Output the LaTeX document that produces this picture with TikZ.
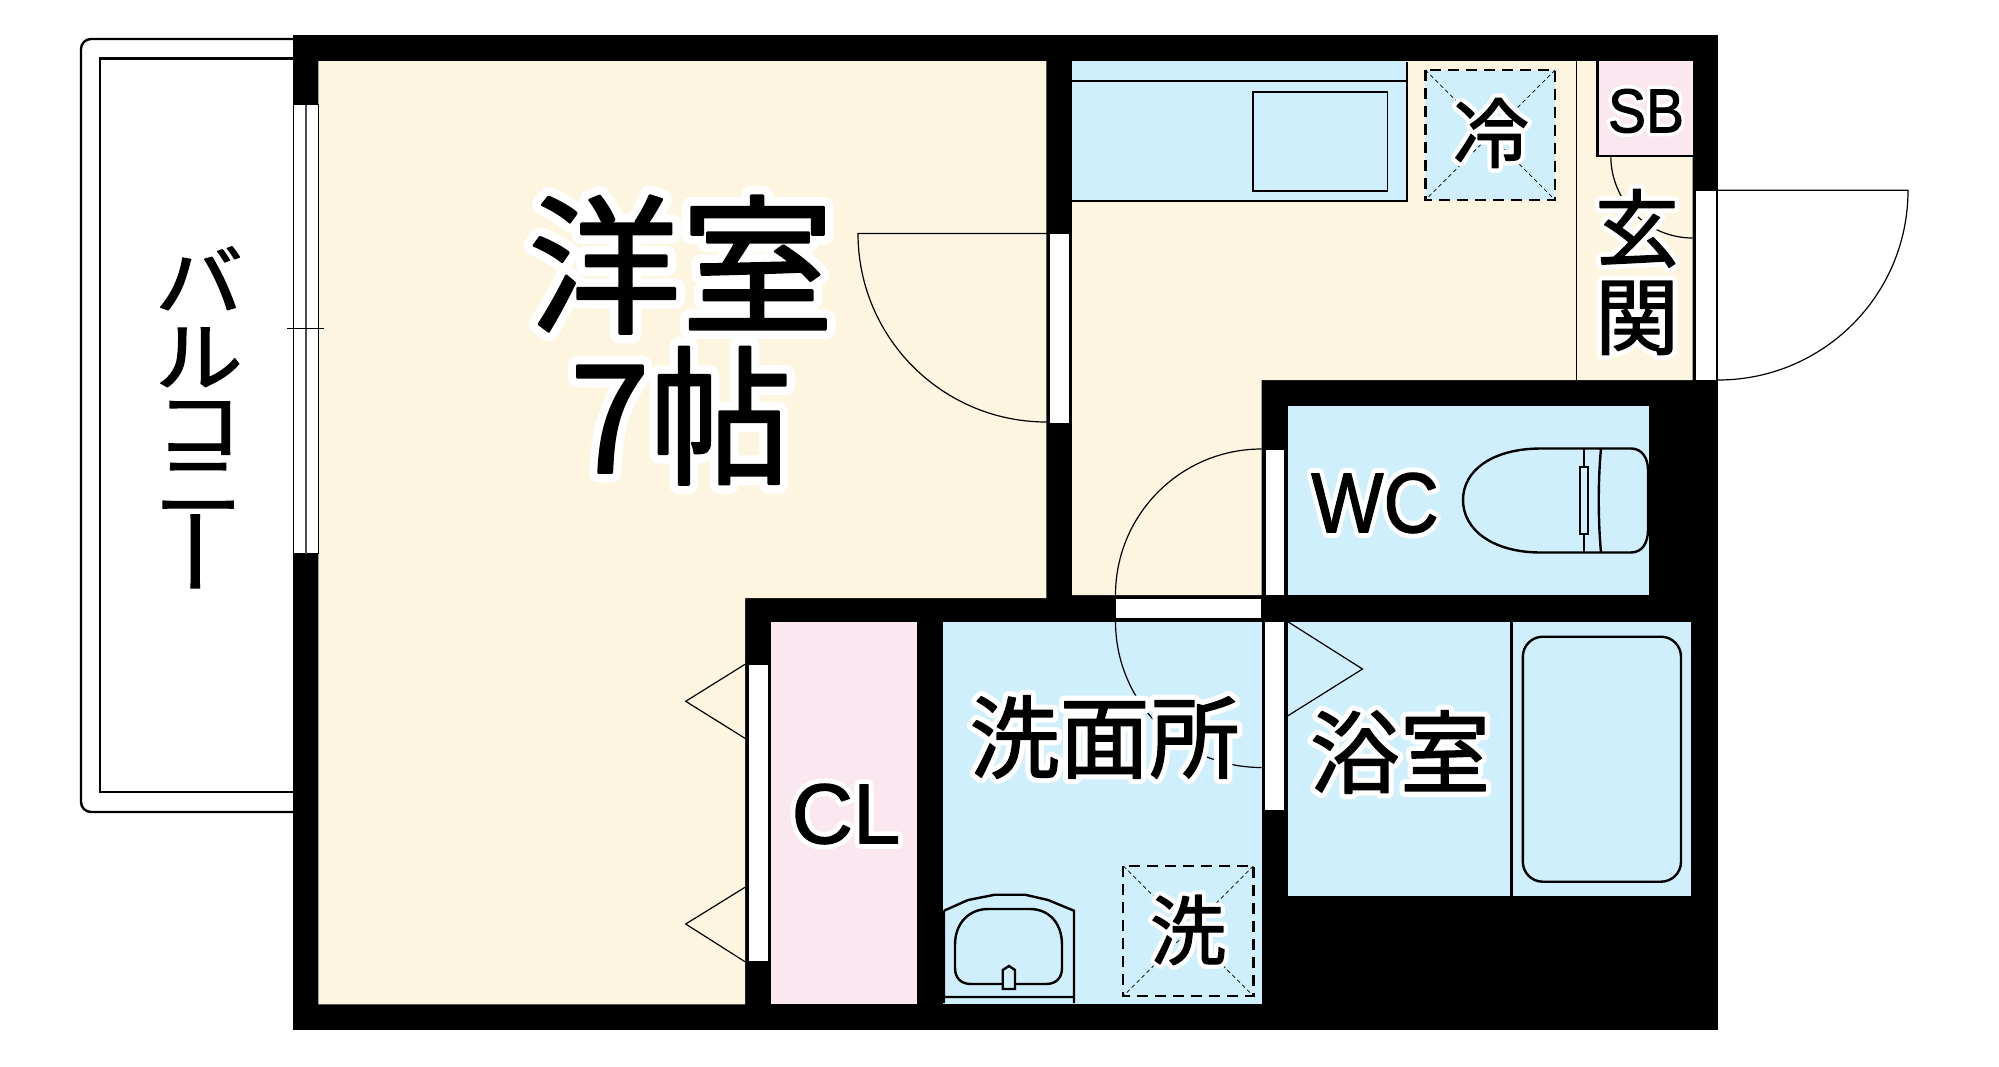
\documentclass[tikz,border=0pt]{standalone}
\usepackage{fontspec}
\setmainfont{Liberation Sans}
\newfontfamily\jp{Noto Sans CJK JP}
\definecolor{cream}{HTML}{FEF5E1}
\definecolor{aqua}{HTML}{D0EFFC}
\definecolor{blush}{HTML}{FBE7F0}
\newcommand\halo[1]{\rlap{\color{white}\addfontfeature{FakeBold=13}#1}{\addfontfeature{FakeBold=1.6}#1}}
\tikzset{
  room/.style={fill=#1,draw=none},
  thin line/.style={draw=black,line width=1.2pt},
  mid line/.style={draw=black,line width=2.4pt},
  pan/.style={draw=black,line width=2.2pt,dash pattern=on 11pt off 7pt},
  cross/.style={draw=black,line width=.7pt,dash pattern=on 4pt off 3pt},
  opening/.style={fill=white,draw=black,line width=.8pt},
  jplabel/.style={font=\jp\fontsize{#1}{#1}\selectfont,inner sep=0pt,align=center},
  jpheavy/.style={font=\jp\fontsize{#1}{#1}\selectfont\addfontfeature{FakeBold=1.6},inner sep=0pt,align=center},
  enlabel/.style={font=\fontsize{#1}{#1}\selectfont,inner sep=0pt},
}
\begin{document}
\begin{tikzpicture}[x=1pt,y=-1pt]
\useasboundingbox (0,0) rectangle (1999,1066);
% balcony
\draw[mid line,rounded corners=10pt] (293,39) -- (81,39) -- (81,812) -- (293,812);
\draw[mid line] (293,58.5) -- (100,58.5) -- (100,792) -- (293,792);
% building mass
\fill[black] (293,35.3) rectangle (1718,1030);
% rooms
\path[room=cream] (318.3,61) -- (1046.3,61) -- (1046.3,598) -- (745,598) -- (745,1004.3) -- (318.3,1004.3) -- cycle;
\path[room=cream] (1072,61) -- (1692.7,61) -- (1692.7,380) -- (1261.5,380) -- (1261.5,595) -- (1072,595) -- cycle;
\path[room=blush] (770.7,621.5) rectangle (917.3,1004.3);
\path[room=aqua] (942.8,621.5) rectangle (1261.5,1004.3);
\path[room=aqua] (1287.5,406) rectangle (1649,595);
\path[room=aqua] (1287.5,621.5) rectangle (1691,896);
\path[room=blush] (1597.6,61) rectangle (1692.7,156);
% kitchen counter
\path[room=aqua] (1072,61) rectangle (1407,201);
\draw[mid line] (1072,81) -- (1406,81);
\draw[mid line] (1072,201) -- (1407,201) -- (1407,62);
\draw[mid line,line width=1.8pt,fill=aqua] (1252.6,92.3) rectangle (1387.5,191.3);
% fridge pan
\path[room=aqua] (1425.4,70) rectangle (1555,200);
\draw[cross] (1425.4,70) -- (1555,200) (1555,70) -- (1425.4,200);
\draw[pan] (1425.4,70) rectangle (1555,200);
% entrance
\draw[thin line] (1576.4,61) -- (1576.4,380);
\draw[mid line] (1692.7,156) -- (1597.6,156) -- (1597.6,61);
\draw[thin line] (1610.8,156) .. controls (1610.8,201.3) and (1647.4,238) .. (1692.7,238);
% openings
\draw[opening] (293,104.7) rectangle (318.3,553.5);
\draw[thin line,draw=black!70] (306,104.7) -- (306,553.5);
\draw[thin line] (287,328.3) -- (324,328.3);
\draw[opening] (1049,233.5) rectangle (1069,423);
\draw[opening] (1695,190.3) rectangle (1716,380);
\draw[opening] (1265,449) rectangle (1284,595);
\draw[opening] (1115.6,598) rectangle (1261,618);
\draw[opening] (1264.8,621) rectangle (1284.8,810.7);
\draw[opening] (748,664.3) rectangle (768,961.7);
% door swings
\draw[thin line] (1046.5,233.5) -- (858,233.5) .. controls (858,337.6) and (942.4,422) .. (1046.5,422);
\draw[thin line] (1718,190.3) -- (1908,190.3) .. controls (1908,295.3) and (1823,380) .. (1718,380);
\draw[thin line] (1261.5,449) .. controls (1180.9,449) and (1115.5,514.4) .. (1115.5,595);
\draw[thin line] (1115.5,621.5) .. controls (1115.5,702.1) and (1180.9,767.5) .. (1261.5,767.5);
\draw[thin line] (1287.5,621.5) -- (1362.5,669) -- (1287.5,716);
\draw[thin line] (745,664.3) -- (685.7,701.3) -- (745,738.3);
\draw[thin line] (745,887.3) -- (685.7,924) -- (745,961.7);
% toilet
\draw[mid line,fill=aqua] (1601,448.5) -- (1541,448.5) .. controls (1493,448.5) and (1463,470) .. (1463,500) .. controls (1463,530) and (1493,552.5) .. (1541,552.5) -- (1601,552.5);
\draw[mid line] (1601,448.5) .. controls (1598,480) and (1598,520) .. (1601,552.5);
\draw[mid line] (1601,448.5) -- (1631,448.5) .. controls (1642,448.5) and (1648,458) .. (1648,470) -- (1648,530) .. controls (1648,543) and (1642,552.5) .. (1631,552.5) -- (1601,552.5);
\draw[mid line] (1584,448.5) -- (1584,552.5);
\draw[mid line,fill=aqua] (1580,466.7) rectangle (1588,534);
% bath
\draw[mid line] (1511.4,621.5) -- (1511.4,896);
\draw[mid line,fill=aqua,rounded corners=20pt] (1522.8,636.7) rectangle (1681,881.7);
% washbasin
\draw[mid line] (944,910.7) -- (968,900) -- (995,894.7) -- (1025,894.7) -- (1048,900) -- (1074,910.7) -- (1074,1003) (944,910.7) -- (944,1003) (944,997) -- (1074,997);
\draw[mid line] (955,945) .. controls (955,922) and (970,909) .. (988,909) -- (1030,909) .. controls (1048,909) and (1062,922) .. (1062,945) -- (1062,968) .. controls (1062,978) and (1056,984) .. (1046,984) -- (971,984) .. controls (961,984) and (955,978) .. (955,968) -- cycle;
\draw[mid line,fill=aqua] (1002.7,970) -- (1009,966) -- (1015,970) -- (1015,989) -- (1002.7,989) -- cycle;
% washer pan
\draw[cross] (1123.3,866) -- (1253.4,996) (1253.4,866) -- (1123.3,996);
\draw[pan] (1123.3,866) rectangle (1253.4,996);
% labels
\begin{scope}[line join=round,line cap=round]
\node[jplabel=150] (western) at (681,340) {\scalebox{1.02}[1]{\halo{洋室}}\\[1pt]\scalebox{.95}[1]{\halo{7帖}}};
\node[jpheavy=88,yscale=.87,transform shape] (balcony) at (199,422) {バ\\[-1pt]ル\\[-9pt]コ\\[-20pt]ニ\\[9pt]\hspace*{22pt}\smash{\rotatebox{90}{\scalebox{1.2}[1]{ー}}}};
\node[jplabel=76] (fridge) at (1491,133) {\halo{冷}};
\node[enlabel=62,xscale=.92,transform shape] (sb) at (1646,111) {\halo{SB}};
\node[jplabel=84] (entry) at (1637,272) {\halo{玄}\\[4pt]\halo{関}};
\node[enlabel=85,xscale=.9,transform shape] (wc) at (1375,503) {\halo{WC}};
\node[enlabel=85] (cl) at (846,814) {\halo{CL}};
\node[jplabel=90] (wash) at (1104.5,737) {\halo{洗面所}};
\node[jplabel=90] (bathlabel) at (1400,752) {\halo{浴室}};
\node[jplabel=76] (washer) at (1188,930) {\halo{洗}};
\end{scope}
\end{tikzpicture}
\end{document}
